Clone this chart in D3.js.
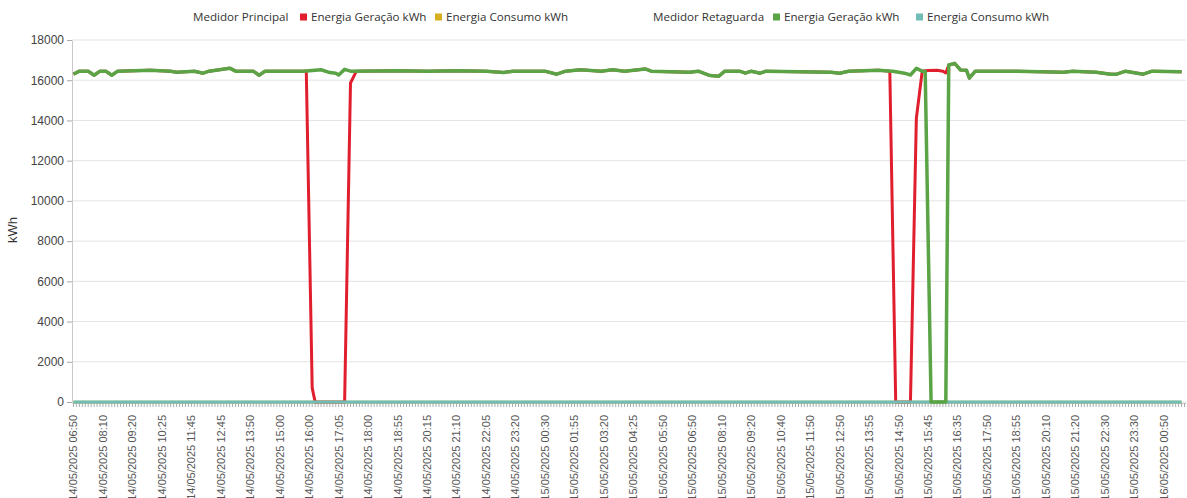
<!DOCTYPE html>
<html>
<head>
<meta charset="utf-8">
<script src="https://cdn.jsdelivr.net/npm/d3@7"></script>
<style>
  body { margin: 0; background: #fff; }
  svg { display: block; font-family: "Liberation Sans", Arial, sans-serif; }
</style>
</head>
<body>
<div id="chart"></div>
<script>
// categories: one per reading, a label is shown every 10th one
const categoryCount = 378;
const labelStep = 10;
const tickLabels = [
  "14/05/2025 06:50", "14/05/2025 08:10", "14/05/2025 09:20", "14/05/2025 10:25",
  "14/05/2025 11:45", "14/05/2025 12:45", "14/05/2025 13:50", "14/05/2025 15:00",
  "14/05/2025 16:00", "14/05/2025 17:05", "14/05/2025 18:00", "14/05/2025 18:55",
  "14/05/2025 20:15", "14/05/2025 21:10", "14/05/2025 22:05", "14/05/2025 23:20",
  "15/05/2025 00:30", "15/05/2025 01:55", "15/05/2025 03:20", "15/05/2025 04:25",
  "15/05/2025 05:50", "15/05/2025 06:50", "15/05/2025 08:10", "15/05/2025 09:20",
  "15/05/2025 10:40", "15/05/2025 11:50", "15/05/2025 12:50", "15/05/2025 13:55",
  "15/05/2025 14:50", "15/05/2025 15:45", "15/05/2025 16:35", "15/05/2025 17:50",
  "15/05/2025 18:55", "15/05/2025 20:10", "15/05/2025 21:20", "15/05/2025 22:30",
  "15/05/2025 23:30", "16/05/2025 00:50"
];
const yTicks = [0, 2000, 4000, 6000, 8000, 10000, 12000, 14000, 16000, 18000];

// series values, [category index, kWh]
const principalGeracao = [
  [0, 16300], [2, 16450], [5, 16450], [7, 16250], [9, 16450], [11, 16450], [13, 16250],
  [15, 16450], [26, 16500], [33, 16450], [35, 16400], [41, 16450], [44, 16350], [46, 16450],
  [53, 16600], [55, 16450], [61, 16450], [63, 16250], [65, 16450], [74, 16450], [79, 16450],
  [81, 700], [82, 0], [92, 0], [94, 15860], [96, 16450], [110, 16470], [120, 16450],
  [130, 16470], [140, 16450], [146, 16380], [149, 16450], [160, 16450], [164, 16300],
  [167, 16450], [172, 16520], [179, 16450], [183, 16520], [187, 16450], [194, 16560],
  [196, 16450], [209, 16400], [212, 16450], [216, 16230], [219, 16200], [221, 16450],
  [226, 16450], [228, 16350], [230, 16450], [233, 16350], [235, 16450], [257, 16400],
  [260, 16350], [263, 16450], [273, 16500], [277, 16450], [279, 0], [284, 0], [286, 14100],
  [288, 16450], [290, 16480], [293, 16500], [295, 16450], [296, 16360], [297, 16760],
  [299, 16840], [301, 16510], [303, 16500], [304, 16110], [306, 16450], [320, 16450],
  [336, 16400], [339, 16450], [347, 16400], [352, 16300], [354, 16300], [357, 16450],
  [363, 16300], [366, 16450], [376, 16420]
];
const principalConsumo = [[0, 0], [376, 0]];
const retaguardaGeracao = [
  [0, 16300], [2, 16450], [5, 16450], [7, 16250], [9, 16450], [11, 16450], [13, 16250],
  [15, 16450], [26, 16500], [33, 16450], [35, 16400], [41, 16450], [44, 16350], [46, 16450],
  [53, 16600], [55, 16450], [61, 16450], [63, 16250], [65, 16450], [74, 16450], [78, 16450],
  [84, 16520], [87, 16380], [89, 16350], [90, 16260], [92, 16540], [94, 16450], [110, 16470],
  [120, 16450], [130, 16470], [140, 16450], [146, 16380], [149, 16450], [160, 16450],
  [164, 16300], [167, 16450], [172, 16520], [179, 16450], [183, 16520], [187, 16450],
  [194, 16560], [196, 16450], [209, 16400], [212, 16450], [216, 16230], [219, 16200],
  [221, 16450], [226, 16450], [228, 16350], [230, 16450], [233, 16350], [235, 16450],
  [257, 16400], [260, 16350], [263, 16450], [273, 16500], [278, 16450], [282, 16350],
  [284, 16260], [286, 16590], [288, 16450], [289, 16450], [291, 0], [296, 0], [297, 16760],
  [299, 16840], [301, 16510], [303, 16500], [304, 16110], [306, 16450], [320, 16450],
  [336, 16400], [339, 16450], [347, 16400], [352, 16300], [354, 16300], [357, 16450],
  [363, 16300], [366, 16450], [376, 16420]
];
const retaguardaConsumo = [[0, 0], [376, 0]];

const W = 1187, H = 498;
const svg = d3.select("#chart").append("svg").attr("width", W).attr("height", H);

const x = d3.scaleBand().domain(d3.range(categoryCount)).range([72, 1186]);
const cx = i => x(i) + x.bandwidth() / 2;
const y = d3.scaleLinear().domain([0, 18000]).range([402, 40]);

// grid
svg.append("g").selectAll("line").data(yTicks).join("line")
  .attr("x1", 72).attr("x2", 1186)
  .attr("y1", d => y(d)).attr("y2", d => y(d))
  .attr("stroke", "#e3e3e3").attr("stroke-width", 1);

// y axis
const yAxis = svg.append("g").attr("transform", "translate(72,0)")
  .call(d3.axisLeft(y).tickValues(yTicks).tickSize(5).tickSizeOuter(0).tickPadding(3).tickFormat(d3.format("d")));
yAxis.select(".domain").attr("stroke", "#c8c8c8");
yAxis.selectAll(".tick line").attr("stroke", "#aaa");
yAxis.selectAll("text").attr("fill", "#444").style("font-size", "12px");

// x axis
const xAxis = svg.append("g").attr("transform", "translate(0,403)")
  .call(d3.axisBottom(x).tickSize(4).tickSizeOuter(0)
    .tickFormat(i => i % labelStep === 0 ? tickLabels[i / labelStep] : ""));
xAxis.select(".domain").attr("stroke", "#c8c8c8");
xAxis.selectAll(".tick line").attr("stroke", "#aaa");
xAxis.selectAll("text")
  .attr("transform", "rotate(-90)")
  .attr("x", -12).attr("y", 0).attr("dy", "0.35em")
  .style("text-anchor", "end")
  .attr("fill", "#555").style("font-size", "11px");

svg.append("text")
  .attr("transform", "translate(17,230) rotate(-90)")
  .attr("text-anchor", "middle")
  .attr("fill", "#333").style("font-size", "13px")
  .text("kWh");

// lines
const line = d3.line().x(d => cx(d[0])).y(d => y(d[1]));
const series = [
  { data: principalGeracao, color: "#e11e2d", w: 3 },
  { data: principalConsumo, color: "#d6b01f", w: 2.5 },
  { data: retaguardaConsumo, color: "#6fbdb6", w: 3 },
  { data: retaguardaGeracao, color: "#5aa446", w: 3.5 }
];
svg.append("g").selectAll("path").data(series).join("path")
  .attr("d", d => line(d.data))
  .attr("fill", "none")
  .attr("stroke", d => d.color)
  .attr("stroke-width", d => d.w)
  .attr("stroke-linejoin", "round");

// legend
const legendTitles = [
  { text: "Medidor Principal", x: 193 },
  { text: "Medidor Retaguarda", x: 653 }
];
const legendItems = [
  { text: "Energia Geração kWh", color: "#e11e2d", x: 300 },
  { text: "Energia Consumo kWh", color: "#d6b01f", x: 435 },
  { text: "Energia Geração kWh", color: "#5aa446", x: 773 },
  { text: "Energia Consumo kWh", color: "#6fbdb6", x: 916 }
];
const lg = svg.append("g").style("font-family", "'Open Sans', sans-serif").style("font-size", "11.6px");
lg.selectAll("text.title").data(legendTitles).join("text")
  .attr("class", "title")
  .attr("x", d => d.x).attr("y", 17).attr("dy", "0.35em")
  .attr("fill", "#333").text(d => d.text);
const items = lg.selectAll("g.item").data(legendItems).join("g")
  .attr("class", "item")
  .attr("transform", d => `translate(${d.x},17)`);
items.append("rect").attr("x", 0).attr("y", -3.5).attr("width", 7).attr("height", 7)
  .attr("fill", d => d.color);
items.append("text").attr("x", 11).attr("dy", "0.35em").attr("fill", "#333").text(d => d.text);
</script>
</body>
</html>
